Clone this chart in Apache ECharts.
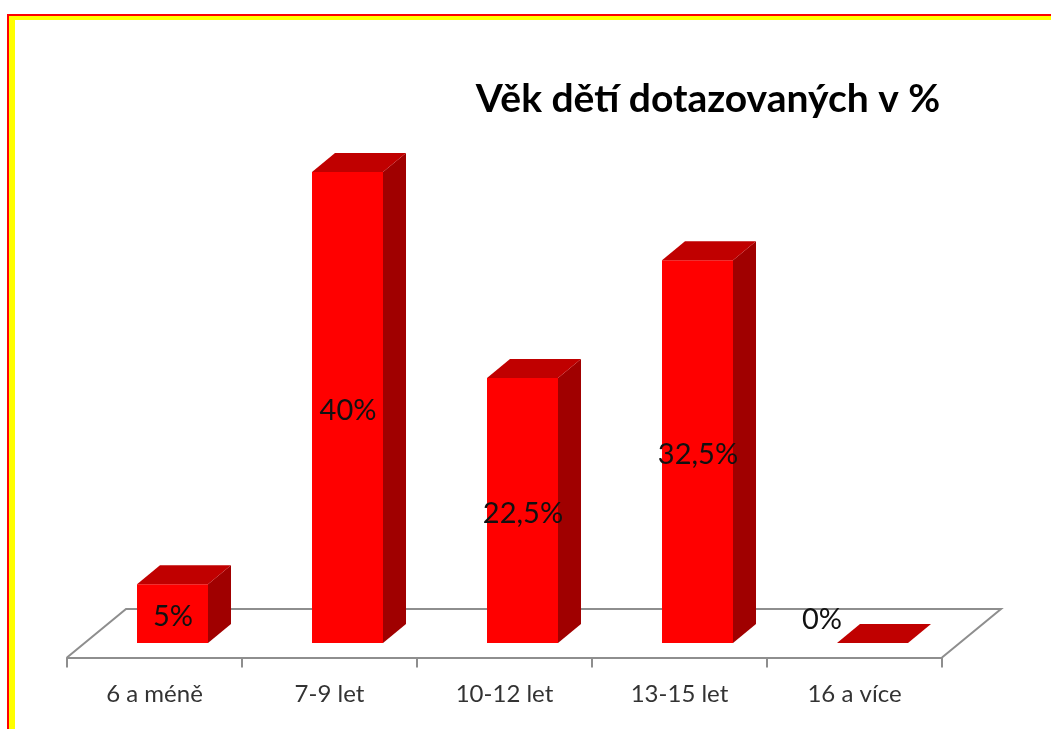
<!DOCTYPE html>
<html>
<head>
<meta charset="utf-8">
<style>html,body{margin:0;padding:0;background:#fff}#c{width:1051px;height:729px}</style>
<script src="https://cdn.jsdelivr.net/npm/echarts@6/dist/echarts.min.js"></script>
</head>
<body>
<div id="c"></div>
<script>
const categories = ['6 a méně', '7-9 let', '10-12 let', '13-15 let', '16 a více'];
const values = [5, 40, 22.5, 32.5, 0];
const valueLabels = ['5%', '40%', '22,5%', '32,5%', '0%'];
const chartTitle = 'Věk dětí dotazovaných v %';

const FONT = 'Lato, "Open Sans", sans-serif';
const DX = 23, DY = 19, SHIFT = 18, HALF = 35.5;
const FLOOR_DROP = 14.5, FLOOR_DX = 59, FLOOR_DY = 48.5;
const chart = echarts.init(document.getElementById('c'), null, {renderer: 'canvas'});

function poly(points, fill) {
  return {type: 'polygon', shape: {points}, style: {fill, stroke: null}};
}
function renderBar(params, api) {
  const i = api.value(0);
  const top = api.coord([i, api.value(1)]);
  const base = api.coord([i, 0]);
  const l = top[0] + SHIFT - HALF, r = top[0] + SHIFT + HALF;
  const t = top[1], b = base[1];
  const children = [];
  if (b - t > 0.5) {
    children.push(poly([[r, t], [r + DX, t - DY], [r + DX, b - DY], [r, b]], '#A00000'));
    children.push(poly([[l, t], [r, t], [r, b], [l, b]], '#FF0000'));
  }
  children.push(poly([[l, t], [l + DX, t - DY], [r + DX, t - DY], [r, t]], '#C00000'));
  const zero = b - t <= 0.5;
  children.push({
    type: 'text', z2: 10,
    style: {
      text: valueLabels[i],
      x: zero ? l - 15 : (l + r) / 2 + 0.5,
      y: zero ? b - 23 : (t + b) / 2 + 3,
      align: 'center', verticalAlign: 'middle',
      font: '29px ' + FONT, fill: '#111'
    }
  });
  return {type: 'group', children};
}
function renderFloor(params, api) {
  const g = params.coordSys;
  const y0 = g.y + g.height + FLOOR_DROP;
  const x0 = g.x, x1 = g.x + g.width;
  return {
    type: 'polyline',
    shape: {points: [[x0, y0], [x0 + FLOOR_DX, y0 - FLOOR_DY], [x1 + FLOOR_DX, y0 - FLOOR_DY], [x1, y0]]},
    style: {stroke: '#8E8E8E', lineWidth: 2, fill: null}
  };
}
chart.setOption({
  animation: false,
  backgroundColor: '#fff',
  title: {
    text: chartTitle, left: 703, top: 75, textAlign: 'center',
    textStyle: {fontFamily: FONT, fontSize: 39, fontWeight: 'bold', color: '#000'}
  },
  grid: {left: 67, width: 875, top: 172, height: 471},
  xAxis: {
    type: 'category', data: categories, offset: FLOOR_DROP,
    axisLine: {show: true, onZero: false, lineStyle: {color: '#8E8E8E', width: 2}},
    axisTick: {show: true, length: 10, alignWithLabel: false, lineStyle: {color: '#8E8E8E', width: 2}},
    axisLabel: {fontFamily: FONT, fontSize: 24, color: '#333', margin: 25}
  },
  yAxis: {type: 'value', min: 0, max: 40, show: false, splitLine: {show: false}},
  graphic: [
    {type: 'rect', shape: {x: 7, y: 14, width: 1044, height: 2}, style: {fill: '#FF0000'}, silent: true},
    {type: 'rect', shape: {x: 7, y: 14, width: 2, height: 715}, style: {fill: '#FF0000'}, silent: true},
    {type: 'rect', shape: {x: 9, y: 16, width: 1042, height: 4}, style: {fill: '#FFFF00'}, silent: true},
    {type: 'rect', shape: {x: 9, y: 16, width: 6, height: 713}, style: {fill: '#FFFF00'}, silent: true}
  ],
  series: [
    {type: 'custom', renderItem: renderFloor, data: [[0]], z: 1, silent: true, clip: false},
    {type: 'custom', renderItem: renderBar, data: values.map((v, i) => [i, v]), encode: {x: 0, y: 1}, z: 2, silent: true, clip: false}
  ]
});
</script>
</body>
</html>
